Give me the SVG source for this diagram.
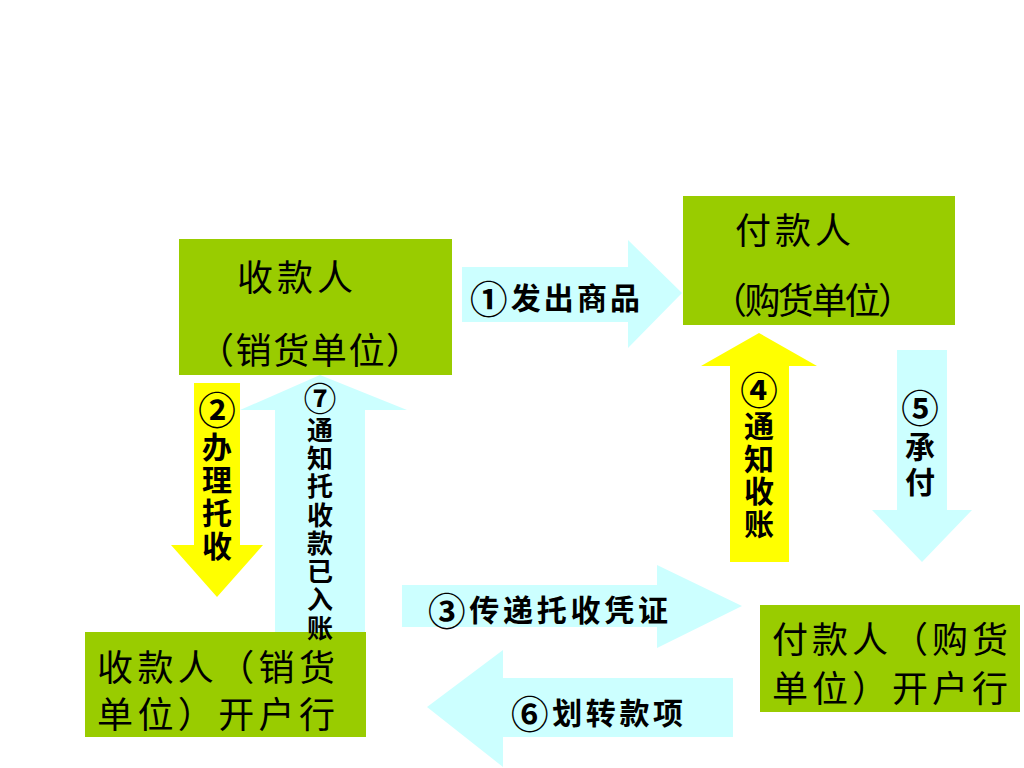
<svg xmlns="http://www.w3.org/2000/svg" width="1024" height="768" viewBox="0 0 1024 768">
<style>
.box{fill:#99CC00}
.cy{fill:#CCFFFF}
.ye{fill:#FFFF00}
.bt{font-family:"Noto Sans CJK SC","Noto Sans CJK JP",sans-serif;font-size:36px;fill:#000;dominant-baseline:central}
.lb{font-family:"Noto Sans CJK SC","Noto Sans CJK JP",sans-serif;font-size:30px;font-weight:bold;fill:#000;dominant-baseline:central}
.vl{font-family:"Noto Sans CJK SC","Noto Sans CJK JP",sans-serif;font-weight:bold;fill:#000;writing-mode:vertical-rl;text-orientation:upright}
.cn{font-size:1.25em}
</style>
<rect width="1024" height="768" fill="#fff"/>
<g id="connectors">
  <polygon id="a1" class="cy" points="462,267 628,267 628,240 682,293 628,348 628,322 462,322"/>
  <polygon id="a7" class="cy" points="275,632 275,410 240,410 320,375 407,410 365,410 365,632"/>
  <polygon id="a2" class="ye" points="194,383 240,383 240,545 263,545 217,597 171,545 194,545"/>
  <polygon id="a4" class="ye" points="730,562 730,366 701,366 759,333 817,366 789,366 789,562"/>
  <polygon id="a5" class="cy" points="897,350 947,350 947,510 972,510 922,562 872,510 897,510"/>
  <polygon id="a3" class="cy" points="402,585 657,585 657,565 742,606 657,648 657,627 402,627"/>
  <polygon id="a6" class="cy" points="733,678 733,737 503,737 503,767 427,707 503,650 503,678"/>
</g>
<g id="payee">
  <rect class="box" x="179" y="239" width="273" height="136"/>
  <text class="bt" x="237" y="275" textLength="116">收款人</text>
  <text class="bt" x="198" y="348" textLength="224">（销货单位）</text>
</g>
<g id="payer">
  <rect class="box" x="683" y="196" width="272" height="129"/>
  <text class="bt" x="735" y="228" textLength="116">付款人</text>
  <text class="bt" x="711" y="298" textLength="203">（购货单位）</text>
</g>
<g id="payee-bank">
  <rect class="box" x="85" y="632" width="281" height="105"/>
  <text class="bt" x="97" y="665" textLength="238">收款人（销货</text>
  <text class="bt" x="97" y="712" textLength="238">单位）开户行</text>
</g>
<g id="payer-bank">
  <rect class="box" x="760" y="605" width="260" height="107"/>
  <text class="bt" x="772" y="637" textLength="236">付款人（购货</text>
  <text class="bt" x="772" y="686" textLength="236">单位）开户行</text>
</g>
<g id="labels">
  <text class="lb" x="470" y="296" textLength="170"><tspan class="cn">①</tspan>发出商品</text>
  <text class="lb" x="428" y="608" textLength="240"><tspan class="cn">③</tspan>传递托收凭证</text>
  <text class="lb" x="511" y="711" textLength="172"><tspan class="cn">⑥</tspan>划转款项</text>
  <text class="vl" x="217" y="391" font-size="30" letter-spacing="3"><tspan class="cn">②</tspan>办理托收</text>
  <text class="vl" x="320" y="382" font-size="26" letter-spacing="2.3"><tspan class="cn">⑦</tspan>通知托收款已入账</text>
  <text class="vl" x="759" y="371" font-size="30" letter-spacing="2.5"><tspan class="cn">④</tspan>通知收账</text>
  <text class="vl" x="920" y="389" font-size="30" letter-spacing="5"><tspan class="cn">⑤</tspan>承付</text>
</g>
</svg>
